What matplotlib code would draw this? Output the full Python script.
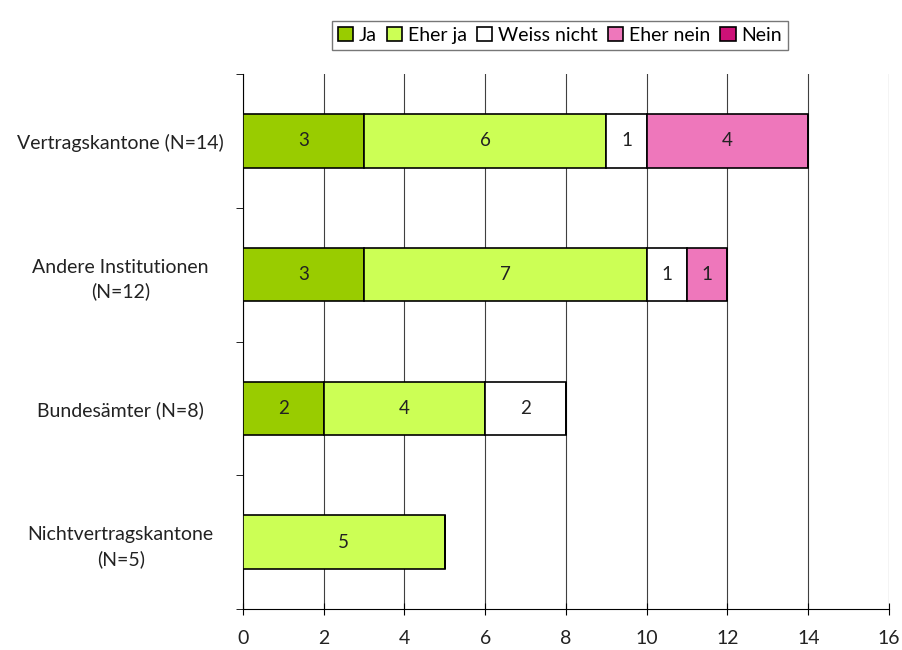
import matplotlib.pyplot as plt
import numpy as np

plt.rcParams['font.family'] = ['Lato', 'DejaVu Sans']

categories = ['Vertragskantone (N=14)', 'Andere Institutionen\n(N=12)',
              'Bundesämter (N=8)', 'Nichtvertragskantone\n(N=5)']
series = ['Ja', 'Eher ja', 'Weiss nicht', 'Eher nein', 'Nein']
values = {
    'Ja':          [3, 3, 2, 0],
    'Eher ja':     [6, 7, 4, 5],
    'Weiss nicht': [1, 1, 2, 0],
    'Eher nein':   [4, 1, 0, 0],
    'Nein':        [0, 0, 0, 0],
}
colors = ['#99CC00', '#CCFF55', '#FFFFFF', '#EE77BB', '#CC1177']

fig = plt.figure(figsize=(9.03, 6.5), dpi=100)
ax = fig.add_axes([0.269, 0.063, 0.7155, 0.823])

y = np.arange(len(categories))
left = np.zeros(len(categories))
for name, col in zip(series, colors):
    vals = np.array(values[name], dtype=float)
    bars = ax.barh(y, vals, left=left, height=0.4, color=col,
                   edgecolor='black', linewidth=1.2, label=name, zorder=3)
    for b, v in zip(bars, vals):
        if v > 0:
            ax.text(b.get_x() + b.get_width() / 2, b.get_y() + b.get_height() / 2,
                    f'{v:g}', ha='center', va='center', fontsize=13.5,
                    color='#222222', zorder=4)
    left += vals

ax.set_xlim(0, 16)
ax.set_ylim(3.5, -0.5)
ax.set_xticks(range(0, 17, 2))
ax.set_yticks(y)
ax.set_yticklabels(categories, fontsize=14, ha='center', linespacing=1.45,
                   color='#222222')
ax.tick_params(axis='y', length=0, pad=88)
ax.set_yticks(np.arange(-0.5, 4, 1), minor=True)
ax.tick_params(axis='y', which='minor', length=5, direction='out')
ax.tick_params(axis='x', labelsize=14, labelcolor='#222222', direction='inout',
               length=8, pad=11)
ax.grid(axis='x', color='#404040', linewidth=0.8, zorder=0)
ax.spines['top'].set_visible(False)
ax.spines['right'].set_visible(False)

leg = fig.legend(loc='center', bbox_to_anchor=(0.62, 0.946), ncol=5,
                 fontsize=14, frameon=True, fancybox=False, edgecolor='#555555',
                 handlelength=0.8, handleheight=0.8, handletextpad=0.3,
                 columnspacing=0.5, borderpad=0.3)

fig.savefig('out.png', dpi=100)
